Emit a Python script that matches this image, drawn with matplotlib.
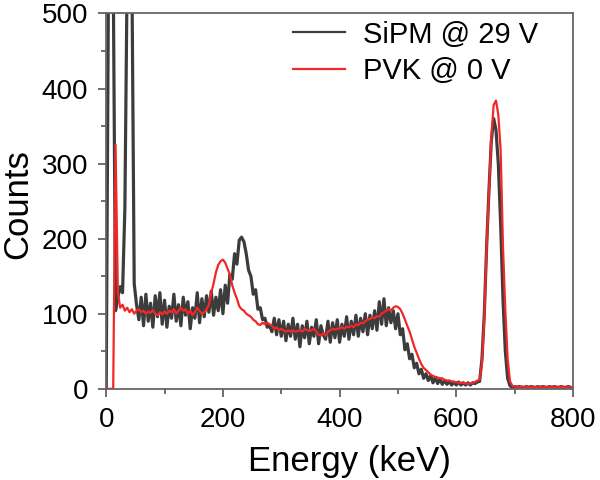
import numpy as np
import matplotlib
matplotlib.use("Agg")
import matplotlib.pyplot as plt
from matplotlib.ticker import MultipleLocator

plt.rcParams['font.family'] = ['Liberation Sans', 'DejaVu Sans']

step_kev = 4
sipm_counts = [
    0, 560, 560, 560, 104, 122, 136, 128, 240, 560, 560, 560, 140, 112,
    92, 122, 84, 126, 90, 114, 82, 124, 96, 128, 86, 118, 82, 110, 94, 126,
    90, 112, 84, 122, 98, 116, 80, 108, 94, 128, 88, 120, 96, 124, 102, 130,
    98, 122, 104, 132, 100, 138, 114, 152, 146, 180, 166, 198, 202, 196,
    180, 158, 150, 126, 132, 106, 108, 92, 94, 82, 84, 76, 94, 72, 92, 70,
    90, 64, 86, 70, 94, 66, 86, 56, 84, 68, 90, 60, 82, 70, 92, 60, 84, 72,
    66, 90, 62, 88, 68, 92, 62, 86, 70, 96, 66, 90, 72, 98, 70, 94, 76, 100,
    72, 98, 80, 104, 78, 116, 86, 120, 84, 108, 88, 104, 80, 100, 72, 80, 52,
    60, 40, 46, 28, 34, 20, 26, 14, 20, 11, 18, 8, 15, 7, 13, 6, 11, 6, 10,
    5, 9, 5, 9, 5, 8, 5, 8, 5, 8, 7, 9, 10, 40, 100, 190, 265, 330, 360, 345,
    300, 220, 120, 50, 14, 4, 2, 3, 2, 3, 2, 2, 3, 2, 3, 2, 2, 3, 2, 3, 2, 2,
    3, 2, 3, 2, 2, 3, 2, 2, 3, 2,
]
pvk_counts = [
    0, 0, 0, 0, 325, 128, 108, 112, 104, 108, 102, 106, 100, 104, 106, 102,
    104, 100, 103, 101, 105, 100, 98, 102, 99, 103, 100, 104, 102, 106, 100,
    104, 108, 104, 106, 100, 104, 98, 102, 108, 104, 100, 102, 106, 112, 128,
    140, 155, 165, 170, 172, 168, 160, 152, 138, 128, 120, 110, 106, 104, 100,
    98, 96, 92, 90, 86, 85, 88, 86, 88, 86, 84, 80, 82, 78, 80, 78, 76, 78,
    76, 78, 76, 77, 78, 76, 80, 78, 77, 78, 80, 76, 72, 71, 74, 71, 76, 78,
    80, 79, 80, 80, 82, 80, 83, 82, 84, 82, 86, 85, 88, 87, 90, 92, 93, 95,
    94, 97, 96, 100, 102, 104, 106, 104, 108, 110, 109, 106, 100, 92, 84, 76,
    66, 56, 48, 40, 33, 28, 25, 22, 19, 17, 16, 15, 14, 14, 12, 11, 11, 10,
    9, 9, 8, 8, 8, 7, 7, 7, 8, 9, 11, 12, 35, 95, 189, 262, 335, 378, 384,
    365, 318, 190, 105, 40, 10, 4, 3, 3, 2, 3, 2, 3, 2, 2, 3, 2, 3, 2, 2, 3,
    2, 3, 2, 2, 3, 2, 3, 2, 2, 3, 2, 2, 3,
]
sipm_energy = np.arange(len(sipm_counts)) * step_kev
pvk_energy = np.arange(len(pvk_counts)) * step_kev

labels = ["SiPM @ 29 V", "PVK @ 0 V"]
x_ticks = [0, 200, 400, 600, 800]
y_ticks = [0, 100, 200, 300, 400, 500]

fig = plt.figure(figsize=(6, 4.8), dpi=100)
ax = fig.add_axes([0.177, 0.19, 0.778, 0.782])

ax.plot(sipm_energy, sipm_counts, color='#3c3c3c', lw=2.3, label=labels[0])
ax.plot(pvk_energy, pvk_counts, color='#f02828', lw=1.6, label=labels[1])

ax.set_xlim(0, 800)
ax.set_ylim(0, 500)
ax.set_xticks(x_ticks)
ax.set_yticks(y_ticks)
ax.xaxis.set_minor_locator(MultipleLocator(100))
ax.yaxis.set_minor_locator(MultipleLocator(50))
ax.tick_params(which='both', direction='out', colors='#555555', labelcolor='black',
               labelsize=20, width=1.2, pad=7)
ax.tick_params(which='major', length=6)
ax.tick_params(which='minor', length=3.5)
for s in ax.spines.values():
    s.set_color('#666666')
    s.set_linewidth(1.3)

ax.set_xlabel("Energy (keV)", fontsize=25)
ax.set_ylabel("Counts", fontsize=25)
ax.xaxis.set_label_coords(0.522, -0.15)
ax.yaxis.set_label_coords(-0.155, 0.492)

leg = ax.legend(loc='upper left', bbox_to_anchor=(0.375, 1.012), frameon=False,
                fontsize=21, handlelength=1.8, handletextpad=0.6,
                borderaxespad=0.0, labelspacing=0.3)
for h in leg.get_lines():
    h.set_linewidth(1.6)

fig.savefig("out.png", dpi=100)
